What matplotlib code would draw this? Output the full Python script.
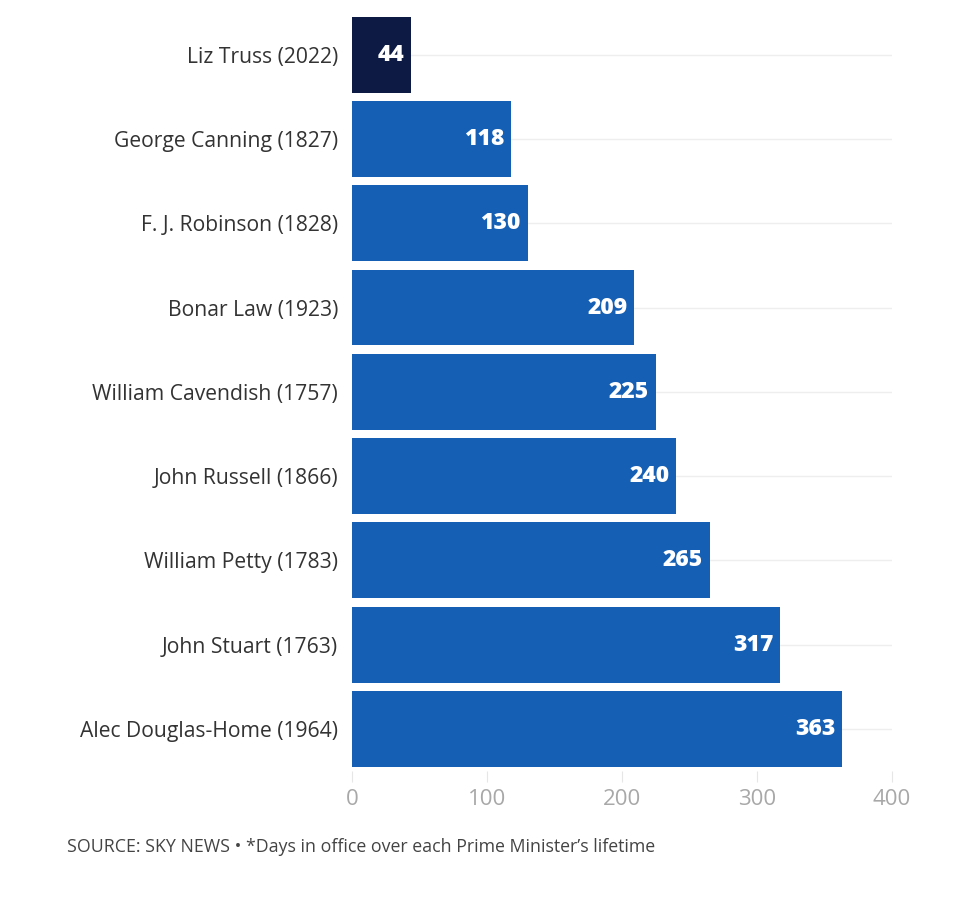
import matplotlib
matplotlib.use('Agg')
import matplotlib.pyplot as plt

plt.rcParams['font.family'] = ['Open Sans', 'DejaVu Sans']

# data
names = ['Liz Truss (2022)', 'George Canning (1827)', 'F. J. Robinson (1828)',
         'Bonar Law (1923)', 'William Cavendish (1757)', 'John Russell (1866)',
         'William Petty (1783)', 'John Stuart (1763)', 'Alec Douglas-Home (1964)']
days = [44, 118, 130, 209, 225, 240, 265, 317, 363]
xticks = [0, 100, 200, 300, 400]

blue = '#1560b5'
dark = '#0c1a44'
colors = [dark] + [blue] * (len(days) - 1)

fig = plt.figure(figsize=(9.8, 8.97), dpi=100)
ax = fig.add_axes([352/980, 1 - 771/897, 540/980, 755/897])

pos = list(range(len(days)))
for p in pos:
    ax.axhline(p, color='#eeeeee', linewidth=1, zorder=0)
ax.barh(pos, days, height=0.9, color=colors, zorder=2)

for p, v in zip(pos, days):
    ax.text(v - 5, p, str(v), color='white', fontsize=16.5, fontweight='heavy',
            ha='right', va='center', zorder=3)

ax.set_xlim(0, 400)
ax.set_ylim(8.5, -0.46)
ax.set_yticks(pos)
ax.set_yticklabels(names, fontsize=15.2, color='#333333')
ax.set_xticks(xticks)
ax.set_xticklabels([str(t) for t in xticks], fontsize=16, color='#a8a8a8')
ax.tick_params(axis='y', length=0, pad=10)
ax.tick_params(axis='x', length=8, color='#e6e6e6', pad=5)
for s in ax.spines.values():
    s.set_visible(False)

fig.text(67/980, 1 - 847/897, "SOURCE: SKY NEWS \u2022 *Days in office over each Prime Minister\u2019s lifetime",
         fontsize=12.8, color='#444444', va='center', ha='left')

fig.savefig('out.png', dpi=100, facecolor='white')
